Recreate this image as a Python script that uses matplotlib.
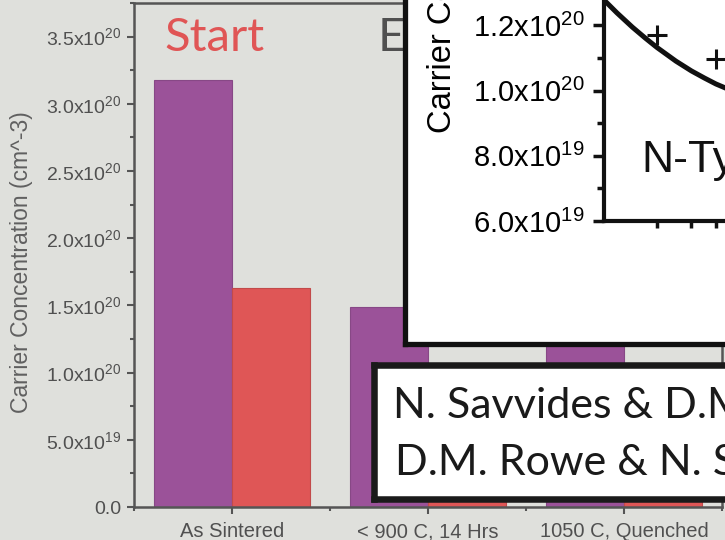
import numpy as np
import matplotlib
matplotlib.use('Agg')
import matplotlib.pyplot as plt
from matplotlib.ticker import FuncFormatter, MultipleLocator, FixedLocator, NullFormatter, LogLocator

plt.rcParams['font.family'] = ['Liberation Sans', 'DejaVu Sans']
plt.rcParams['mathtext.fontset'] = 'custom'
plt.rcParams['mathtext.rm'] = 'Liberation Sans'
plt.rcParams['mathtext.it'] = 'Liberation Sans:italic'

# main bar chart data (groups 2/3 partly hidden behind the boxes)
categories = ['As Sintered', '< 900 C, 14 Hrs', '1050 C, Quenched']
start_vals = [3.18e20, 1.49e20, 1.45e20]
end_vals = [1.63e20, 0.90e20, 0.95e20]

# inset curve (log x) and measured points
curve_x = [1.0, 1.25, 1.5, 1.75, 2.0, 2.5, 3.0, 3.5, 4.0, 4.5, 5.0]
curve_y = [1.296e20, 1.238e20, 1.194e20, 1.160e20, 1.132e20, 1.090e20,
           1.060e20, 1.038e20, 1.020e20, 1.007e20, 0.996e20]
pts_x = [2.0, 4.0]
pts_y = [1.169e20, 1.098e20]

ref_lines = ['N. Savvides & D.M. Rowe', 'D.M. Rowe & N. Savvides']

bg = '#dfe0dc'
purple = '#9b5299'
red = '#df5656'
grey = '#555555'

W, H = 725, 540
fig = plt.figure(figsize=(7.25, 5.4), dpi=100, facecolor=bg)


def sci(v, pos=None):
    if v == 0:
        return '0.0'
    e = int(np.floor(np.log10(abs(v)) + 1e-9))
    m = v / 10 ** e
    return '%.1fx10$^{%d}$' % (m, e)


# ---- main axes
ax = fig.add_axes([134 / W, (H - 507) / H, 588 / W, 504 / H], facecolor=bg)
x = np.arange(len(categories))
ax.bar(x - 0.2, start_vals, 0.4, color=purple, edgecolor='#874886', linewidth=0.8)
ax.bar(x + 0.2, end_vals, 0.4, color=red, edgecolor='#c24a4a', linewidth=0.8)
ax.set_xlim(-0.5, 2.5)
ax.set_ylim(0, 3.75e20)
ax.set_xticks(x)
ax.set_xticklabels(categories)
ax.xaxis.set_minor_locator(FixedLocator([-0.5, 0.5, 1.5, 2.5]))
ax.yaxis.set_major_locator(MultipleLocator(0.5e20))
ax.yaxis.set_minor_locator(MultipleLocator(0.25e20))
ax.yaxis.set_major_formatter(FuncFormatter(sci))
for s in ax.spines.values():
    s.set_color(grey)
    s.set_linewidth(1.8)
ax.tick_params(which='major', direction='out', length=5, width=1.5, color=grey,
               labelcolor='#505050', labelsize=14, pad=4)
ax.tick_params(which='minor', direction='out', length=3, width=1.5, color=grey)
ax.tick_params(axis='x', which='major', pad=6, labelsize=14.5)
ax.text(22 / W, 1 - 262 / H, 'Carrier Concentration (cm^-3)', transform=fig.transFigure,
        rotation=90, ha='center', va='center', fontsize=16.5, color='#606060')
ax.text(164 / W, 1 - 51 / H, 'Start', transform=fig.transFigure, family='Lato',
        fontsize=34, color='#e05555', va='baseline', ha='left')
ax.text(378 / W, 1 - 51 / H, 'End', transform=fig.transFigure, family='Lato',
        fontsize=34, color='#505050', va='baseline', ha='left', clip_on=False)

# ---- inset box
ib = fig.add_axes([404.5 / W, (H - 343.5) / H, 0.6, 0.8], facecolor='white')
ib.set_xticks([])
ib.set_yticks([])
for s in ib.spines.values():
    s.set_color('#111111')
    s.set_linewidth(3.8)
ib.text(443 / W, 1 - 133 / H, 'Carrier Concentration (cm^-3)', transform=fig.transFigure,
        rotation=90, ha='center', va='bottom', fontsize=23.5, color='black')

# ---- inset axes (196 px per decade on a log x axis)
ia = fig.add_axes([604 / W, (H - 221) / H, 0.969 * 196 / W, 261 / H], facecolor='white')
ia.set_xscale('log')
ia.set_xlim(1.074, 10)
ia.set_ylim(6e19, 1.4e20)
ia.plot(curve_x, curve_y, color='#111111', lw=3.6, solid_joinstyle='round')
ia.plot(pts_x, pts_y, '+', color='#111111', ms=14, mew=2.2)
ia.yaxis.set_major_locator(MultipleLocator(2e19))
ia.yaxis.set_minor_locator(MultipleLocator(1e19))
ia.yaxis.set_major_formatter(FuncFormatter(sci))
ia.xaxis.set_minor_locator(LogLocator(base=10, subs=np.arange(2, 10)))
ia.xaxis.set_major_formatter(NullFormatter())
ia.xaxis.set_minor_formatter(NullFormatter())
for k in ['top', 'right']:
    ia.spines[k].set_visible(False)
for k in ['left', 'bottom']:
    ia.spines[k].set_color('#111111')
    ia.spines[k].set_linewidth(3)
ia.tick_params(axis='y', which='major', direction='out', length=8, width=2.5,
               labelsize=21, pad=6, color='#111111')
ia.tick_params(axis='y', which='minor', direction='out', length=5, width=2.5, color='#111111')
ia.tick_params(axis='x', which='both', direction='out', length=5, width=2.5, color='#111111')
ia.text(641 / W, 1 - 172 / H, 'N-Type', transform=fig.transFigure, fontsize=32,
        va='baseline', ha='left', color='#111111')

# ---- reference text box
tb = fig.add_axes([373.5 / W, (H - 498.5) / H, 0.6, 133.5 / H], facecolor='white')
tb.set_xticks([])
tb.set_yticks([])
for s in tb.spines.values():
    s.set_color('#1a1a1a')
    s.set_linewidth(4.7)
tb.text(393 / W, 1 - 418 / H, ref_lines[0], transform=fig.transFigure, family='Lato',
        fontsize=31, va='baseline', ha='left', color='#1a1a1a')
tb.text(395 / W, 1 - 475 / H, ref_lines[1], transform=fig.transFigure, family='Lato',
        fontsize=31, va='baseline', ha='left', color='#1a1a1a')

fig.savefig('out.png', dpi=100, facecolor=bg)
